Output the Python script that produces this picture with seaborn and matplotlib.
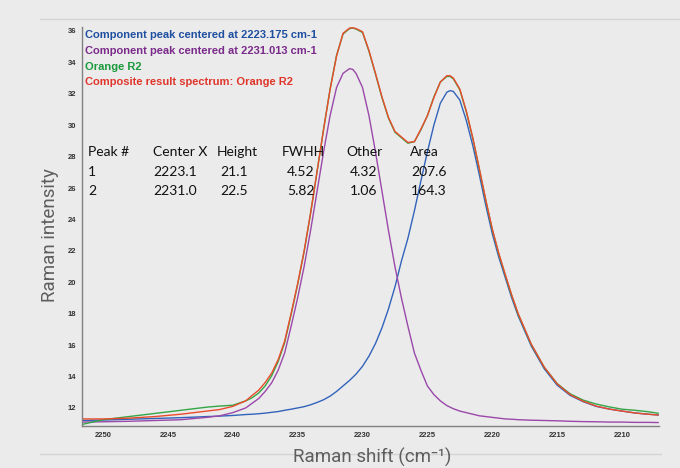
import matplotlib
matplotlib.use("Agg")
import matplotlib.pyplot as plt
from matplotlib.lines import Line2D
from matplotlib.ticker import MultipleLocator, FixedLocator
import pandas as pd
import seaborn as sns

# ---------------- data ----------------
raman_shift = [2251.6, 2250, 2248, 2246, 2244, 2242, 2241, 2240, 2239, 2238.5,
               2238, 2237.5, 2237, 2236.5, 2236, 2235.5, 2235, 2234.5, 2234, 2233.5,
               2233, 2232.5, 2232, 2231.5, 2231, 2230.75, 2230.5, 2230, 2229.5, 2229,
               2228.5, 2228, 2227.5, 2227, 2226.5, 2226, 2225.5, 2225, 2224.5, 2224,
               2223.5, 2223.25, 2223, 2222.5, 2222, 2221.5, 2221, 2220.5, 2220, 2219.5,
               2219, 2218.5, 2218, 2217, 2216, 2215, 2214, 2213, 2212, 2211,
               2210, 2209, 2208, 2207.2]

blue_component = [11.2, 11.23, 11.28, 11.33, 11.38, 11.45, 11.48, 11.52, 11.58, 11.6,
                  11.63, 11.67, 11.72, 11.77, 11.85, 11.92, 12.0, 12.08, 12.2, 12.35,
                  12.52, 12.75, 13.05, 13.4, 13.75, 13.95, 14.15, 14.65, 15.3, 16.1,
                  17.1, 18.3, 19.7, 21.35, 22.8, 24.55, 26.45, 28.3, 30.0, 31.4,
                  32.1, 32.2, 32.15, 31.6, 30.3, 28.7, 26.85, 24.9, 23.1, 21.6,
                  20.3, 19.0, 17.85, 15.95, 14.5, 13.45, 12.8, 12.4, 12.1, 11.93,
                  11.8, 11.68, 11.6, 11.55]

purple_component = [11.1, 11.12, 11.15, 11.2, 11.25, 11.4, 11.5, 11.7, 12.0, 12.3,
                    12.6, 13.05, 13.6, 14.4, 15.5, 17.2, 19.0, 21.0, 23.3, 25.8,
                    28.3, 30.6, 32.4, 33.3, 33.6, 33.55, 33.3, 32.4, 30.6, 28.3,
                    25.8, 23.3, 21.0, 19.0, 17.2, 15.5, 14.4, 13.4, 12.85, 12.45,
                    12.15, 12.05, 11.95, 11.8, 11.7, 11.6, 11.5, 11.45, 11.4, 11.35,
                    11.3, 11.28, 11.25, 11.22, 11.2, 11.18, 11.15, 11.13, 11.12, 11.1,
                    11.1, 11.08, 11.08, 11.07]

green_measured = [10.95, 11.25, 11.45, 11.65, 11.85, 12.05, 12.12, 12.17, 12.45, 12.65,
                  12.95, 13.4, 14.05, 14.95, 16.15, 17.95, 19.85, 21.95, 24.4, 27.05,
                  29.75, 32.3, 34.45, 35.8, 36.15, 36.18, 36.12, 35.9, 34.7, 33.25,
                  31.75, 30.45, 29.55, 29.2, 28.85, 28.95, 29.7, 30.6, 31.8, 32.75,
                  33.1, 33.1, 32.95, 32.25, 30.85, 29.15, 27.2, 25.2, 23.35, 21.8,
                  20.45, 19.15, 17.95, 16.05, 14.6, 13.55, 12.9, 12.5, 12.25, 12.07,
                  11.92, 11.85, 11.76, 11.66]

red_composite = [11.3, 11.3, 11.35, 11.45, 11.6, 11.8, 11.9, 12.1, 12.45, 12.8,
                 13.13, 13.62, 14.22, 15.07, 16.25, 18.02, 19.9, 21.98, 24.4, 27.05,
                 29.72, 32.25, 34.4, 35.85, 36.18, 36.2, 36.15, 35.95, 34.75, 33.3,
                 31.8, 30.5, 29.6, 29.25, 28.9, 28.95, 29.75, 30.6, 31.75, 32.75,
                 33.15, 33.15, 33.0, 32.3, 30.9, 29.2, 27.25, 25.25, 23.4, 21.85,
                 20.5, 19.18, 18.0, 16.07, 14.6, 13.53, 12.85, 12.43, 12.12, 11.93,
                 11.8, 11.68, 11.6, 11.55]

series_names = ["Component peak centered at 2223.175 cm-1",
                "Component peak centered at 2231.013 cm-1",
                "Orange R2",
                "Composite result spectrum: Orange R2"]

table_header = ["Peak #", "Center X", "Height", "FWHH", "Other", "Area"]
table_row1 = ["1", "2223.1", "21.1", "4.52", "4.32", "207.6"]
table_row2 = ["2", "2231.0", "22.5", "5.82", "1.06", "164.3"]

x_ticks = [2250, 2245, 2240, 2235, 2230, 2225, 2220, 2215, 2210]
y_ticks = [12, 14, 16, 18, 20, 22, 24, 26, 28, 30, 32, 34, 36]

# ---------------- styling ----------------
line_colors = ["#3263bb", "#9a48aa", "#35a547", "#ec4b2b"]
text_colors = ["#1f4fa0", "#7a2a8a", "#1a9a3c", "#e0352a"]
bg = "#ebebeb"

sns.set_theme(style="white")
plt.rcParams["font.family"] = ["Liberation Sans", "DejaVu Sans"]

fig = plt.figure(figsize=(6.8, 4.68), dpi=100, facecolor=bg)
ax = fig.add_axes([81.7 / 680, 1 - 426 / 468, (659 - 81.7) / 680, (426 - 27) / 468])
ax.set_facecolor(bg)

df = pd.DataFrame({"shift": raman_shift,
                   series_names[0]: blue_component,
                   series_names[1]: purple_component,
                   series_names[2]: green_measured,
                   series_names[3]: red_composite})
long_df = df.melt(id_vars="shift", var_name="series", value_name="intensity")

sns.lineplot(data=long_df, x="shift", y="intensity", hue="series",
             hue_order=series_names, palette=dict(zip(series_names, line_colors)),
             sort=False, estimator=None, linewidth=1.0, ax=ax)

ax.set_xlim(2251.64, 2207.15)
ax.set_ylim(10.85, 36.25)

for s in ["top", "right"]:
    ax.spines[s].set_visible(False)
for s in ["left", "bottom"]:
    ax.spines[s].set_color("#808080")
    ax.spines[s].set_linewidth(1.0)

ax.xaxis.set_major_locator(FixedLocator(x_ticks))
ax.xaxis.set_minor_locator(MultipleLocator(1))
ax.yaxis.set_major_locator(FixedLocator(y_ticks))
ax.yaxis.set_minor_locator(MultipleLocator(0.4))
ax.set_xticklabels([str(t) for t in x_ticks])
ax.set_yticklabels([str(t) for t in y_ticks])
ax.tick_params(axis="both", which="major", direction="out", length=3, width=0.8,
               color="#606060", labelsize=5.5, labelcolor="#333333", pad=1.0)
ax.tick_params(axis="both", which="minor", direction="inout", length=2.5, width=0.6,
               color="#808080")
ax.tick_params(axis="x", which="major", pad=1.5)
for lbl in ax.get_xticklabels() + ax.get_yticklabels():
    lbl.set_fontweight("bold")
    lbl.set_family(["Liberation Sans Narrow", "Liberation Sans", "DejaVu Sans"])

ax.set_xlabel("Raman shift (cm\u207b\u00b9)", fontsize=13.5, color="#5e5e5e",
              family=["Roboto", "DejaVu Sans"], fontweight="normal")
ax.xaxis.set_label_coords((372 - 81.7) / 577.3, (426 - 457) / 399)
ax.xaxis.label.set_va("center")
ax.set_ylabel("Raman intensity", fontsize=13.5, color="#5e5e5e",
              family=["Roboto", "DejaVu Sans"], fontweight="normal")
ax.yaxis.set_label_coords((50 - 81.7) / 577.3, (426 - 235) / 399)
ax.yaxis.label.set_va("center")

# legend (text only, coloured)
handles, labels = ax.get_legend_handles_labels()
leg = ax.legend(handles, labels, loc="upper left",
                bbox_to_anchor=(85 / 680, 1 - 30 / 468), bbox_transform=fig.transFigure,
                frameon=False, handlelength=0, handletextpad=0, borderpad=0,
                borderaxespad=0, labelspacing=0.52,
                prop={"family": "Liberation Sans", "weight": "bold", "size": 8.0})
for h in leg.legend_handles:
    h.set_visible(False)
for t, c in zip(leg.get_texts(), text_colors):
    t.set_color(c)

# fit results table
col_x_header = [88, 153, 217, 282, 346, 410]
col_x_values = [88, 153, 220, 287, 350, 411]
for txt, xp in zip(table_header, col_x_header):
    fig.text(xp / 680, 1 - 152 / 468, txt, ha="left", va="center", fontsize=10,
             family=["Lato", "DejaVu Sans"], color="#111111")
for row, yp in ((table_row1, 172), (table_row2, 191)):
    for txt, xp in zip(row, col_x_values):
        fig.text(xp / 680, 1 - yp / 468, txt, ha="left", va="center", fontsize=10,
                 family=["Lato", "DejaVu Sans"], color="#111111")

# decorative rules
fig.add_artist(Line2D([40 / 680, 1.0], [1 - 19 / 468] * 2, color="#d4d4d4", lw=1.0, zorder=-1))
fig.add_artist(Line2D([40 / 680, 661 / 680], [1 - 454 / 468] * 2, color="#d4d4d4", lw=1.0, zorder=-1))

fig.savefig("out.png", dpi=100, facecolor=bg)
